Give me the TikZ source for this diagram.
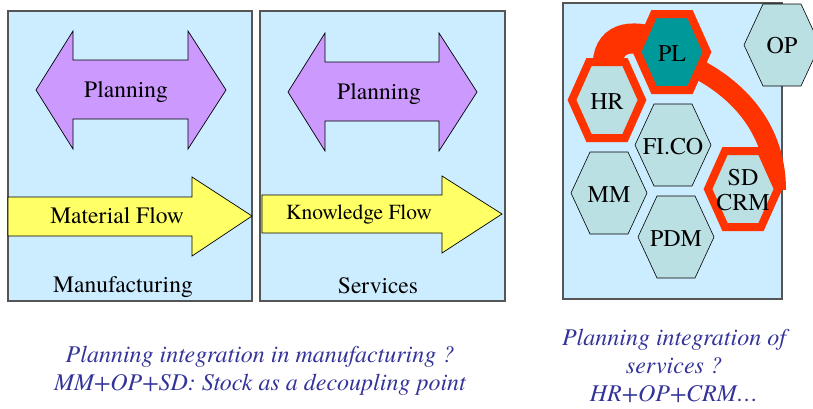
\documentclass[tikz,border=0pt]{standalone}
\usepackage{fontspec}
\setmainfont{TeX Gyre Termes}
\newfontfamily\timesx{TeX Gyre Termes}
\definecolor{boxfill}{HTML}{CCECFF}
\definecolor{boxline}{HTML}{555555}
\definecolor{planfill}{HTML}{CC99FF}
\definecolor{flowfill}{HTML}{FFFF66}
\definecolor{hexfill}{HTML}{BBE0E3}
\definecolor{plfill}{HTML}{009999}
\definecolor{redband}{HTML}{FF3300}
\definecolor{captext}{HTML}{333399}
\tikzset{
  panel/.style={draw=boxline, line width=1.2pt, fill=boxfill},
  planarrow/.style={draw=black, line width=0.7pt, fill=planfill},
  flowarrow/.style={draw=black, line width=0.7pt, fill=flowfill},
  lbl/.style={font=\timesx\fontsize{23.5}{26}\selectfont, inner sep=0pt},
  hexlbl/.style={font=\timesx\fontsize{24}{25}\selectfont, inner sep=0pt, align=center},
  caption/.style={font=\timesx\itshape\fontsize{24}{28}\selectfont, text=captext, inner sep=0pt, anchor=base},
  hexplain/.style={draw=black, line width=0.6pt, fill=hexfill},
  hexred/.style={draw=redband, line width=8pt, line join=miter, fill=hexfill},
}
\newcommand{\hexpath}[3]{% center x, center y, style
  \path[#3] (#1-38,#2) -- (#1-19,#2-41) -- (#1+19,#2-41) -- (#1+38,#2) -- (#1+19,#2+41) -- (#1-19,#2+41) -- cycle;}
\newcommand{\hexsmall}[3]{% red-outlined hexagon (outline adds width)
  \path[#3] (#1-35,#2) -- (#1-18,#2-38) -- (#1+18,#2-38) -- (#1+35,#2) -- (#1+18,#2+38) -- (#1-18,#2+38) -- cycle;}
\begin{document}
\begin{tikzpicture}[x=1pt,y=-1pt]
\useasboundingbox (0,0) rectangle (813,408);
% panels
\draw[panel] (8,11) rectangle (252,301);
\draw[panel] (260,11) rectangle (505,301);
\draw[panel] (563,3) rectangle (782,299);
% planning arrows
\draw[planarrow] (36,90) -- (73,31) -- (73,60) -- (188,60) -- (188,31) -- (226,90) -- (188,149) -- (188,119) -- (73,119) -- (73,149) -- cycle;
\node[lbl] (plan1) at (126,92) {Planning};
\draw[planarrow] (288,92) -- (325,33) -- (325,62) -- (439,62) -- (439,33) -- (477,92) -- (439,151) -- (439,121) -- (325,121) -- (325,151) -- cycle;
\node[lbl] (plan2) at (379,94) {Planning};
% flow arrows
\draw[flowarrow] (8,197) -- (192,197) -- (192,177) -- (252,216) -- (192,256) -- (192,236) -- (8,236) -- cycle;
\node[lbl] (mat) at (117,216) {Material Flow};
\draw[flowarrow] (262,195) -- (442,195) -- (442,176) -- (502,214) -- (442,253) -- (442,233) -- (262,233) -- cycle;
\node[lbl, font=\timesx\fontsize{21.5}{24}\selectfont] (know) at (359,214) {Knowledge Flow};
% panel titles
\node[lbl] (manu) at (123,287) {Manufacturing};
\node[lbl] (serv) at (378,286) {Services};
% red band
\draw[redband, line width=30pt, line cap=butt] (608,75) .. controls (604,40) and (625,33) .. (655,42);
\draw[redband, line width=20pt, line cap=butt] (692,66) .. controls (745,92) and (776,135) .. (776,190);
% hexagons
\hexpath{782}{45}{hexplain}
\hexpath{609}{193}{hexplain}
\hexpath{673}{145}{hexplain}
\hexpath{676}{237}{hexplain}
\hexsmall{607}{100}{hexred}
\hexsmall{743}{189}{hexred}
\hexsmall{672}{52}{hexred, fill=plfill}
\node[hexlbl] (op) at (782,46) {OP};
\node[hexlbl] (mm) at (609,195) {MM};
\node[hexlbl] (fico) at (673,147) {FI.CO};
\node[hexlbl] (pdm) at (676,239) {PDM};
\node[hexlbl] (hr) at (607,102) {HR};
\node[hexlbl] (pl) at (672,54) {PL};
\node[hexlbl] (sdcrm) at (743,190) {SD\\CRM};
% captions
\node[caption] (c1) at (260,362) {Planning integration in manufacturing ?};
\node[caption] (c2) at (260,390) {MM+OP+SD: Stock as a decoupling point};
\node[caption] (c3) at (674,345) {Planning integration of};
\node[caption] (c4) at (674,373) {services ?};
\node[caption] (c5) at (674,401) {HR+OP+CRM…};
\end{tikzpicture}
\end{document}
